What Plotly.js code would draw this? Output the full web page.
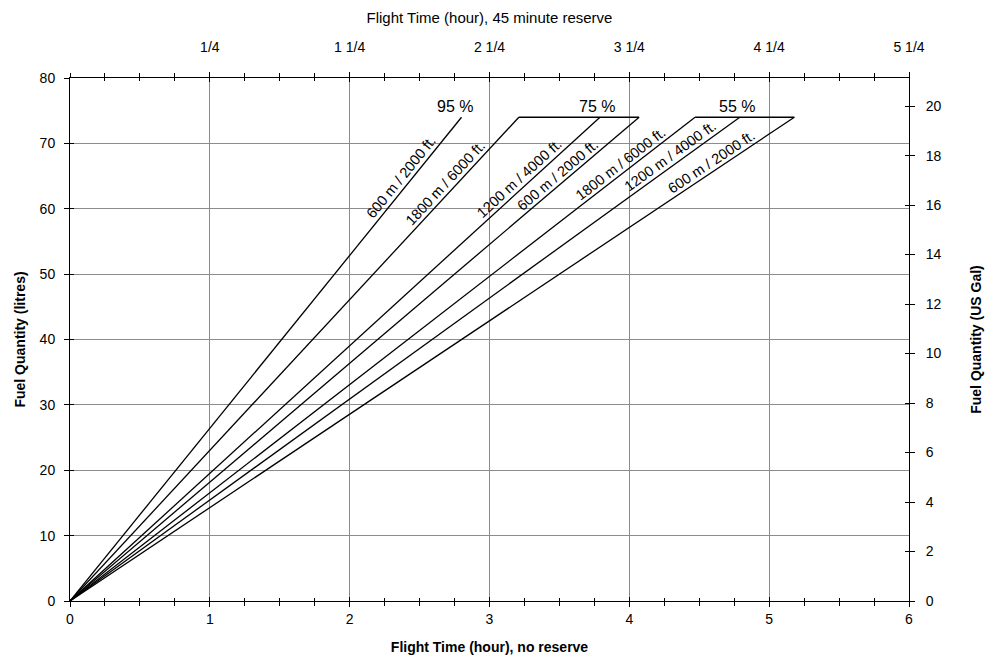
<!DOCTYPE html>
<html><head><meta charset="utf-8">
<script src="https://cdn.plot.ly/plotly-3.0.1.min.js"></script>
<style>html,body{margin:0;padding:0;background:#fff}#chart{width:992px;height:666px}</style>
</head><body><div id="chart"></div>
<script>
// Data
const lineNames   = ['600 m / 2000 ft.','1800 m / 6000 ft.','1200 m / 4000 ft.','600 m / 2000 ft.','1800 m / 6000 ft.','1200 m / 4000 ft.','600 m / 2000 ft.'];
const lineGroup   = ['95 %','75 %','75 %','75 %','55 %','55 %','55 %'];
const endHours    = [2.80, 3.21, 3.79, 4.07, 4.47, 4.79, 5.18];   // flight time, no reserve (h)
const endLitres   = [74, 74, 74, 74, 74, 74, 74];                  // fuel quantity (litres)
const groupNames  = ['95 %','75 %','55 %'];
const groupLabelX = [2.75, 3.77, 4.77];
const topTickVals = [1, 2, 3, 4, 5, 6];
const topTickText = ['1/4','1 1/4','2 1/4','3 1/4','4 1/4','5 1/4'];
const labelFrac   = [0.864, 0.851, 0.860, 0.867, 0.889, 0.904, 0.892]; // label position along each line
const LITRES_PER_GAL = 3.785;

const W = 992, H = 666, M = {l:70, r:83, t:78, b:65};
const plotW = W - M.l - M.r, plotH = H - M.t - M.b;
const XR = [0, 6], YR = [0, 80];
const font = 'Liberation Sans, Arial, sans-serif';

const traces = [];
for (let i = 0; i < endHours.length; i++) {
  traces.push({x:[0, endHours[i]], y:[0, endLitres[i]], mode:'lines', type:'scatter',
    line:{color:'#000', width:1.3}, hoverinfo:'skip', showlegend:false});
}
// connectors joining the ends of each power-setting group
groupNames.forEach(g => {
  const idx = lineGroup.map((v,i)=>v===g?i:-1).filter(i=>i>=0);
  if (idx.length > 1) {
    const a = idx[0], b = idx[idx.length-1];
    traces.push({x:[endHours[a], endHours[b]], y:[endLitres[a], endLitres[b]], mode:'lines', type:'scatter',
      line:{color:'#000', width:1.3}, hoverinfo:'skip', showlegend:false});
  }
});
// dummy traces to activate the other axes
traces.push({x:[0], y:[0], xaxis:'x2', yaxis:'y2', mode:'markers', marker:{opacity:0}, hoverinfo:'skip', showlegend:false});
traces.push({x:[0], y:[0], xaxis:'x3', yaxis:'y3', mode:'markers', marker:{opacity:0}, hoverinfo:'skip', showlegend:false});
traces.push({x:[0], y:[0], xaxis:'x4', yaxis:'y4', mode:'markers', marker:{opacity:0}, hoverinfo:'skip', showlegend:false});

const annotations = [];
for (let i = 0; i < endHours.length; i++) {
  const px = endHours[i] / (XR[1]-XR[0]) * plotW;
  const py = endLitres[i] / (YR[1]-YR[0]) * plotH;
  const a = Math.atan2(py, px);
  const d = 9;
  annotations.push({x: endHours[i]*labelFrac[i], y: endLitres[i]*labelFrac[i], xref:'x', yref:'y',
    text: lineNames[i], showarrow:false, textangle: -a*180/Math.PI,
    xanchor:'center', yanchor:'middle', xshift: -d*Math.sin(a), yshift: d*Math.cos(a),
    font:{family:font, size:14.5, color:'#000'}});
}
groupNames.forEach((g,k) => {
  annotations.push({x: groupLabelX[k], y: 74, xref:'x', yref:'y', text: g, showarrow:false,
    xanchor:'center', yanchor:'bottom', yshift:0, font:{family:font, size:16, color:'#000'}});
});

const gal = YR[1] / LITRES_PER_GAL;
const axBase = {showline:true, linecolor:'#000', linewidth:1, zeroline:false, tickcolor:'#000',
  tickfont:{family:font, size:14, color:'#000'}};

const layout = {
  width: W, height: H, margin: M, paper_bgcolor:'#fff', plot_bgcolor:'#fff',
  font:{family:font, color:'#000'},
  xaxis: Object.assign({}, axBase, {range:XR, dtick:1, tick0:0, ticks:'outside', ticklen:5,
    showgrid:true, gridcolor:'#8c8c8c', gridwidth:1,
    minor:{dtick:0.25, ticks:'outside', ticklen:4, tickcolor:'#000', showgrid:false},
    title:{text:'<b>Flight Time (hour), no reserve</b>', font:{family:font, size:14}, standoff:16}}),
  yaxis: Object.assign({}, axBase, {range:YR, dtick:10, ticks:'outside', ticklen:5, ticklabelstandoff:6,
    showgrid:true, gridcolor:'#8c8c8c', gridwidth:1,
    title:{text:'<b>Fuel Quantity (litres)</b>', font:{family:font, size:14}, standoff:10}}),
  xaxis2: Object.assign({}, axBase, {overlaying:'x', side:'top', range:XR, tickmode:'array',
    tickvals: topTickVals, ticktext: topTickText, ticks:'outside', ticklen:5, ticklabelstandoff:14,
    minor:{dtick:0.25, ticks:'outside', ticklen:4, tickcolor:'#000', showgrid:false},
    showgrid:false, anchor:'y',
    title:{text:'Flight Time (hour), 45 minute reserve', font:{family:font, size:15}, standoff:12}}),
  yaxis2: Object.assign({}, axBase, {overlaying:'y', side:'right', range:[0, gal], dtick:2,
    ticks:'outside', ticklen:5, ticklabelstandoff:8, showgrid:false, anchor:'x',
    title:{text:'<b>Fuel Quantity (US Gal)</b>', font:{family:font, size:14}, standoff:30}}),
  // inside tick halves to make crossing ticks
  xaxis3: {overlaying:'x', range:XR, dtick:1, ticks:'inside', ticklen:4, tickcolor:'#000',
    showticklabels:false, showgrid:false, zeroline:false, showline:false, anchor:'y3', side:'bottom',
    minor:{dtick:0.25, ticks:'inside', ticklen:3, tickcolor:'#000', showgrid:false}},
  yaxis3: {overlaying:'y', range:YR, dtick:10, ticks:'inside', ticklen:4, tickcolor:'#000',
    showticklabels:false, showgrid:false, zeroline:false, showline:false, anchor:'x3', side:'left'},
  xaxis4: {overlaying:'x', range:XR, dtick:1, ticks:'inside', ticklen:4, tickcolor:'#000',
    showticklabels:false, showgrid:false, zeroline:false, showline:false, anchor:'y4', side:'top',
    minor:{dtick:0.25, ticks:'inside', ticklen:3, tickcolor:'#000', showgrid:false}},
  yaxis4: {overlaying:'y', range:[0, gal], dtick:2, ticks:'inside', ticklen:4, tickcolor:'#000',
    showticklabels:false, showgrid:false, zeroline:false, showline:false, anchor:'x4', side:'right'},
  annotations: annotations,
  showlegend:false
};
Plotly.newPlot('chart', traces, layout, {displayModeBar:false, staticPlot:true});
</script></body></html>
